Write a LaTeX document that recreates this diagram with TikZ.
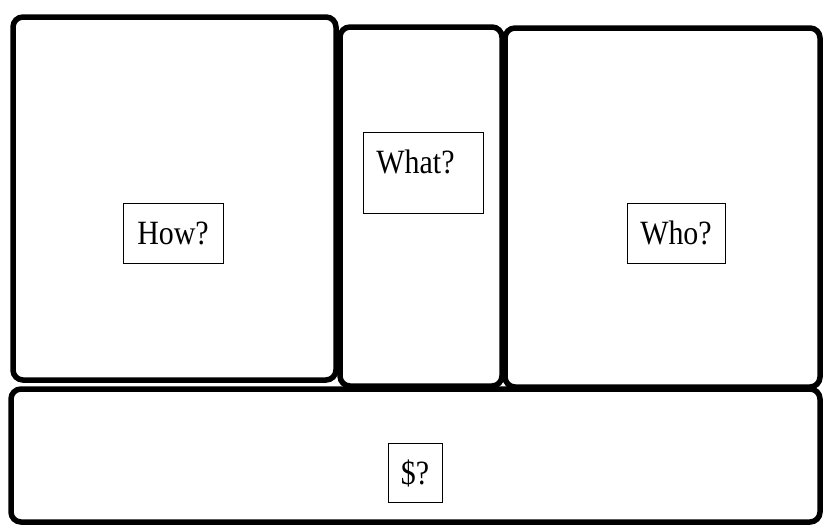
\documentclass[tikz,border=0pt]{standalone}
\usepackage{fontspec}
\setmainfont{Liberation Serif}
\tikzset{
  frame/.style={draw=black, line width=5.5pt, rounded corners=10pt},
  label box/.style={draw=black, line width=0.9pt, inner sep=0pt,
    font=\fontsize{34}{34}\selectfont},
}
\newcommand{\sq}[1]{\scalebox{0.88}[1]{#1}}
\begin{document}
\begin{tikzpicture}[x=1pt,y=-1pt]
\useasboundingbox (0,0) rectangle (823,528);
% frames
\draw[frame] (13,17) rectangle (336,380);
\draw[frame] (340,27) rectangle (502,386);
\draw[frame] (505,28) rectangle (820,387);
\draw[frame] (11,389) rectangle (820,522);
% labels
\node[label box, minimum width=100pt, minimum height=60pt] (how) at (173,233) {\sq{How?}};
\node[label box, anchor=north west, inner xsep=13pt, inner ysep=18pt,
      text width=94pt, align=left, text height=23pt, text depth=22pt] (what) at (363,132) {\sq{What?}};
\node[label box, minimum width=98pt, minimum height=60pt] (who) at (676,233) {\sq{Who?}};
\node[label box, minimum width=54pt, minimum height=59pt] (money) at (415,473) {\sq{\$?}};
\end{tikzpicture}
\end{document}
